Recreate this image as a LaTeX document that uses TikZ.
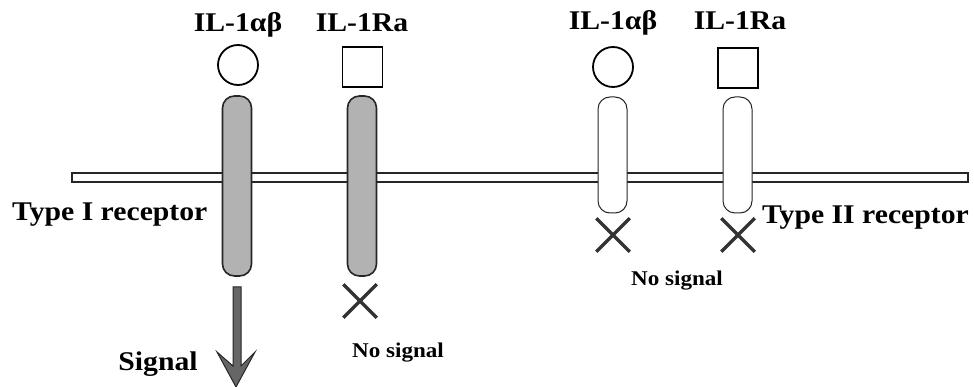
\documentclass[tikz,border=0pt]{standalone}
\usepackage{fontspec}
\setmainfont{Liberation Serif}
\newfontfamily\lblfont[FakeStretch=1.1]{Liberation Serif}
\usetikzlibrary{shapes.misc}
\begin{document}
\begin{tikzpicture}[x=1pt,y=-1pt,
  lab/.style={font=\lblfont\fontsize{27}{30}\selectfont\bfseries, inner sep=0pt, anchor=base},
  small/.style={font=\lblfont\fontsize{21}{25}\selectfont\bfseries, inner sep=0pt, anchor=base},
  recI/.style={draw=black!85, line width=1.6pt, fill=black!30, rounded corners=12pt, minimum width=29pt, inner sep=0pt},
  recII/.style={draw=black!85, line width=1pt, fill=white, rounded corners=12pt, minimum width=29pt, inner sep=0pt},
  lig/.style={draw=black, line width=1.8pt, fill=white, inner sep=0pt, minimum size=40pt},
  xmark/.style={cross out, draw=black!80, line width=3.5pt, minimum size=30pt, inner sep=0pt},
  memb/.style={draw=black!85, line width=1.1pt, fill=white, inner sep=0pt}]
\useasboundingbox (0,0) rectangle (974,387);
% membrane
\node[memb, minimum width=896pt, minimum height=9pt] (mem) at (520,177.5) {};
% receptors
\node[recI, minimum height=180pt] (r1) at (237,186) {};
\node[recI, minimum height=180pt] (r2) at (362,186) {};
\node[recII, minimum height=116pt] (r3) at (612.5,155) {};
\node[recII, minimum height=116pt] (r4) at (737.5,155) {};
% ligands
\node[lig, circle] (c1) at (238,65) {};
\node[lig, rectangle] (s1) at (362.5,67) {};
\node[lig, circle] (c2) at (613,67) {};
\node[lig, rectangle] (s2) at (738,68) {};
% labels
\node[lab] (t1) at (238,32) {IL-1αβ};
\node[lab] (t2) at (362,32) {IL-1Ra};
\node[lab] (t3) at (613,30) {IL-1αβ};
\node[lab] (t4) at (740,30) {IL-1Ra};
\node[lab, anchor=base west] (tI) at (12,221) {Type I receptor};
\node[lab, anchor=base east] (tII) at (969,224) {Type II receptor};
% crosses
\node[xmark] (x1) at (360,301) {};
\node[xmark] (x2) at (613,235) {};
\node[xmark] (x3) at (738,235) {};
\node[small] (ns1) at (398,357) {No signal};
\node[small] (ns2) at (677,285) {No signal};
% signal arrow
\coordinate (a0) at ([yshift=-10pt]r1.south);
\coordinate (tip) at (236,387);
\fill[black!60, draw=black!85, line width=1pt]
  ([xshift=-4pt]a0) -- ([xshift=-4pt]a0 |- 0,366) -- (217,352) -- (tip) -- (255,352)
  -- ([xshift=4pt]a0 |- 0,366) -- ([xshift=4pt]a0) -- cycle;
\node[lab, font=\lblfont\fontsize{27}{30}\selectfont\bfseries] (sig) at (158,370) {Signal};
\end{tikzpicture}
\end{document}
